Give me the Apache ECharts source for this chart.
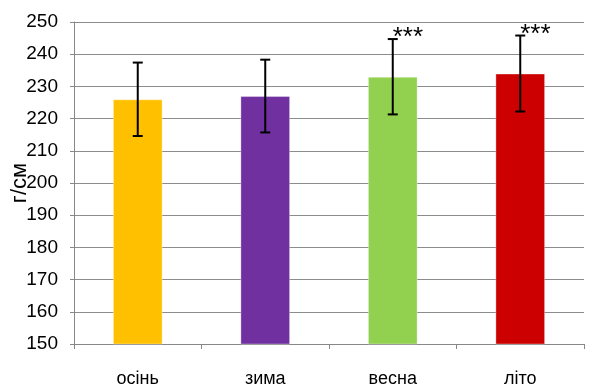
<!DOCTYPE html>
<html><head><meta charset="utf-8">
<script src="https://cdn.jsdelivr.net/npm/echarts@6/dist/echarts.min.js"></script>
<style>html,body{margin:0;padding:0;background:#fff}#c{width:589px;height:387px}</style>
</head><body><div id="c"></div>
<script>
const categories = ['осінь', 'зима', 'весна', 'літо'];
const values = [226, 227, 233, 234];
const errors = [11.4, 11.3, 11.7, 11.8];
const marks = ['', '', '***', '***'];
const colors = ['#FFC000', '#7030A0', '#92D050', '#CC0000'];
const yTicks = [150, 250, 10];

const chart = echarts.init(document.getElementById('c'));
const errData = values.map((v, i) => [i, v - errors[i], v + errors[i], marks[i]]);
chart.setOption({
  animation: false,
  grid: { left: 74, right: 5, top: 22, bottom: 43, containLabel: false, outerBoundsMode: 'none' },
  xAxis: {
    type: 'category', data: categories,
    axisLine: { lineStyle: { color: '#888', width: 1 } },
    axisTick: { show: true, length: 5, lineStyle: { color: '#888' } },
    axisLabel: { color: '#000', fontFamily: 'Liberation Sans, Arial', fontSize: 18, margin: 26 }
  },
  yAxis: {
    type: 'value', min: yTicks[0], max: yTicks[1], interval: yTicks[2],
    name: 'г/см', nameLocation: 'middle', nameGap: 43, nameRotate: 90, nameMoveOverlap: false,
    nameTextStyle: { color: '#000', fontFamily: 'Liberation Sans, Arial', fontSize: 22 },
    axisLine: { show: true, lineStyle: { color: '#888' } },
    axisTick: { show: true, length: 4, lineStyle: { color: '#888' } },
    axisLabel: { color: '#000', fontFamily: 'Liberation Sans, Arial', fontSize: 19, margin: 16 },
    splitLine: { lineStyle: { color: '#8c8c8c', width: 1 } }
  },
  series: [
    {
      type: 'bar', barWidth: '39%',
      data: values.map((v, i) => ({ value: v, itemStyle: { color: colors[i] } })),
      itemStyle: { borderColor: 'rgba(255,255,255,0.35)', borderWidth: 1 }
    },
    {
      type: 'custom', data: errData, z: 10,
      renderItem: function (params, api) {
        const x = api.value(0);
        const lo = api.coord([x, api.value(1)]);
        const hi = api.coord([x, api.value(2)]);
        const cw = 5;
        const st = { stroke: '#000', lineWidth: 2 };
        const children = [
          { type: 'line', shape: { x1: lo[0], y1: lo[1], x2: hi[0], y2: hi[1] }, style: st },
          { type: 'line', shape: { x1: lo[0] - cw, y1: lo[1], x2: lo[0] + cw, y2: lo[1] }, style: st },
          { type: 'line', shape: { x1: hi[0] - cw, y1: hi[1], x2: hi[0] + cw, y2: hi[1] }, style: st }
        ];
        const m = api.value(3);
        if (m) {
          children.push({ type: 'text', x: hi[0], y: hi[1] - 1,
            style: { text: m, fill: '#000', font: '26px "Liberation Sans", Arial', textAlign: 'left', textVerticalAlign: 'middle' } });
        }
        return { type: 'group', children: children };
      }
    }
  ]
});
</script></body></html>
